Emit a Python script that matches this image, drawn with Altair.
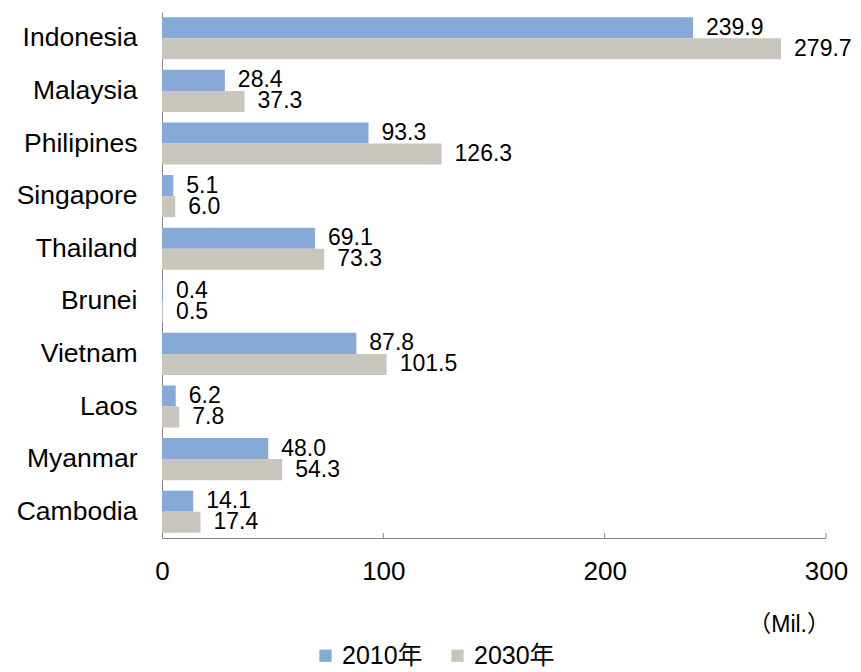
import altair as alt
import pandas as pd

countries = ["Indonesia", "Malaysia", "Philipines", "Singapore", "Thailand",
             "Brunei", "Vietnam", "Laos", "Myanmar", "Cambodia"]
v2010 = [239.9, 28.4, 93.3, 5.1, 69.1, 0.4, 87.8, 6.2, 48.0, 14.1]
v2030 = [279.7, 37.3, 126.3, 6.0, 73.3, 0.5, 101.5, 7.8, 54.3, 17.4]
series = ["2010年", "2030年"]
colors = ["#87A9D6", "#C9C6BD"]
x_ticks = [0, 100, 200, 300]

rows = []
for c, a, b in zip(countries, v2010, v2030):
    rows.append({"country": c, "year": series[0], "value": a, "label": f"{a:.1f}"})
    rows.append({"country": c, "year": series[1], "value": b, "label": f"{b:.1f}"})
df = pd.DataFrame(rows)

FONT = "Liberation Sans, Arial, Noto Sans CJK JP"
W, H = 664, 526

y_scale = alt.Scale(domain=countries, paddingInner=0.2, paddingOuter=0.1)
x_scale = alt.Scale(domain=[0, 300], nice=False)

base = alt.Chart(df)

bars = base.mark_bar().encode(
    x=alt.X("value:Q", scale=x_scale,
            axis=alt.Axis(values=x_ticks, title=None, grid=False, ticks=False,
                          labelFontSize=26, labelPadding=20, labelColor="#000",
                          labelFlush=False, domainColor="#888888", labelFont=FONT,
                          labelFontWeight="normal")),
    y=alt.Y("country:N", scale=y_scale, sort=countries,
            axis=alt.Axis(title=None, ticks=False, labelFontSize=26.5, labelPadding=25,
                          labelColor="#000", domainColor="#888888", labelFont=FONT,
                          labelFontWeight="normal")),
    yOffset=alt.YOffset("year:N", sort=series),
    color=alt.Color("year:N", scale=alt.Scale(domain=series, range=colors),
                    legend=alt.Legend(title=None, orient="none", direction="horizontal",
                                      legendX=151, legendY=631, symbolType="square",
                                      symbolSize=150, symbolStrokeWidth=0,
                                      labelFontSize=25, labelFont=FONT, labelColor="#000",
                                      columnPadding=22, symbolOffset=0, labelOffset=4,
                                      labelFontWeight="normal")),
)

labels = base.mark_text(align="left", baseline="middle", dx=13, fontSize=23,
                        font=FONT, color="#000").encode(
    x=alt.X("value:Q", scale=x_scale),
    y=alt.Y("country:N", scale=y_scale, sort=countries),
    yOffset=alt.YOffset("year:N", sort=series),
    text="label:N",
)

tick_df = pd.DataFrame({"t": x_ticks[1:]})
ticks = alt.Chart(tick_df).mark_rule(color="#888888").encode(
    x=alt.X("t:Q", scale=x_scale),
    y=alt.value(H - 5),
    y2=alt.value(H),
)

unit = alt.Chart(pd.DataFrame({"u": ["（Mil.）"]})).mark_text(
    align="right", baseline="middle", fontSize=23, font=FONT, color="#000"
).encode(x=alt.value(W + 4), y=alt.value(613), text="u:N")

chart = alt.layer(bars, labels, ticks, unit).properties(
    width=W, height=H,
    autosize=alt.AutoSizeParams(type="none"),
    padding={"left": 154, "top": 4, "right": 27, "bottom": 132},
).configure_view(stroke=None)

chart.save("out.html", embed_options={"renderer": "svg", "actions": False})
